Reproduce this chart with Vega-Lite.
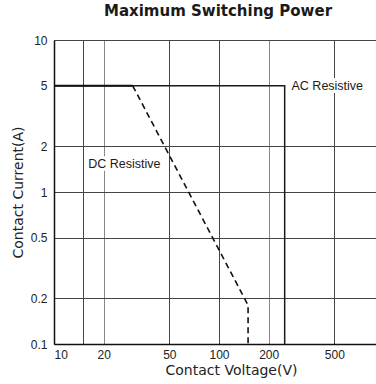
{
  "$schema": "https://vega.github.io/schema/vega-lite/v6.json",
  "autosize": "none",
  "width": 322,
  "height": 304,
  "padding": {"left": 54, "top": 40, "right": 0, "bottom": 40},
  "background": "white",
  "title": {
    "text": "Maximum Switching Power",
    "font": "DejaVu Sans",
    "fontSize": 15,
    "fontWeight": "bold",
    "color": "#1a1a1a",
    "anchor": "middle",
    "dx": 3,
    "offset": 15
  },
  "config": {
    "view": {"stroke": null},
    "axis": {
      "labelFont": "Liberation Sans",
      "labelFontSize": 12,
      "labelColor": "#222",
      "titleFont": "DejaVu Sans",
      "titleFontSize": 14,
      "titleFontWeight": "normal",
      "titleColor": "#222",
      "ticks": false,
      "domainColor": "#111",
      "domainWidth": 1.5,
      "gridColor": "#444",
      "gridWidth": 1,
      "gridOpacity": 1
    }
  },
  "layer": [
    {
      "data": {"values": [
        {"series": "AC", "v": 10, "a": 5, "o": 1},
        {"series": "AC", "v": 250, "a": 5, "o": 2},
        {"series": "AC", "v": 250, "a": 0.1, "o": 3}
      ]},
      "mark": {"type": "line", "color": "#1a1a1a", "strokeWidth": 1.5, "clip": true},
      "encoding": {
        "x": {
          "field": "v", "type": "quantitative",
          "scale": {"type": "log", "domain": [10, 894], "nice": false},
          "axis": {
            "values": [10, 15, 20, 50, 100, 200, 500],
            "labelExpr": "datum.value == 15 ? '' : datum.label",
            "format": "d",
            "labelPadding": 5,
            "title": "Contact Voltage(V)",
            "titleX": 177,
            "titleY": 26,
            "titleBaseline": "middle",
            "titleAlign": "center",
            "gridColor": {"condition": {"test": "datum.value == 20 || datum.value == 200", "value": "#888"}, "value": "#444"}
          }
        },
        "y": {
          "field": "a", "type": "quantitative",
          "scale": {"type": "log", "domain": [0.1, 10], "nice": false},
          "axis": {
            "values": [0.1, 0.2, 0.5, 1, 2, 5, 10],
            "labelExpr": "datum.value",
            "labelPadding": 7,
            "title": "Contact Current(A)",
            "titleX": -36,
            "titleY": 152,
            "titleAngle": -90,
            "titleAlign": "center",
            "titleBaseline": "middle",
            "gridColor": {"condition": {"test": "datum.value == 5", "value": "transparent"}, "value": "#444"}
          }
        },
        "order": {"field": "o"}
      }
    },
    {
      "data": {"values": [
        {"series": "DC solid", "v": 10, "a": 5, "o": 1},
        {"series": "DC solid", "v": 30, "a": 5, "o": 2}
      ]},
      "mark": {"type": "line", "color": "#111", "strokeWidth": 2.2},
      "encoding": {
        "x": {"field": "v", "type": "quantitative"},
        "y": {"field": "a", "type": "quantitative"},
        "order": {"field": "o"}
      }
    },
    {
      "data": {"values": [
        {"series": "DC", "v": 30, "a": 5, "o": 1},
        {"series": "DC", "v": 150, "a": 0.18, "o": 2},
        {"series": "DC", "v": 150, "a": 0.1, "o": 3}
      ]},
      "mark": {"type": "line", "color": "#111", "strokeWidth": 1.6, "strokeDash": [6, 4]},
      "encoding": {
        "x": {"field": "v", "type": "quantitative"},
        "y": {"field": "a", "type": "quantitative"},
        "order": {"field": "o"}
      }
    },
    {
      "data": {"values": [
        {"label": "AC Resistive", "v": 275, "a": 5},
        {"label": "DC Resistive", "v": 16.1, "a": 1.53}
      ]},
      "mark": {"type": "text", "font": "Liberation Sans", "fontSize": 12.5, "align": "left", "baseline": "middle", "color": "white", "stroke": "white", "strokeWidth": 6},
      "encoding": {
        "x": {"field": "v", "type": "quantitative"},
        "y": {"field": "a", "type": "quantitative"},
        "text": {"field": "label"}
      }
    },
    {
      "data": {"values": [
        {"label": "AC Resistive", "v": 275, "a": 5},
        {"label": "DC Resistive", "v": 16.1, "a": 1.53}
      ]},
      "mark": {"type": "text", "font": "Liberation Sans", "fontSize": 12.5, "align": "left", "baseline": "middle", "color": "#1a1a1a"},
      "encoding": {
        "x": {"field": "v", "type": "quantitative"},
        "y": {"field": "a", "type": "quantitative"},
        "text": {"field": "label"}
      }
    }
  ]
}
